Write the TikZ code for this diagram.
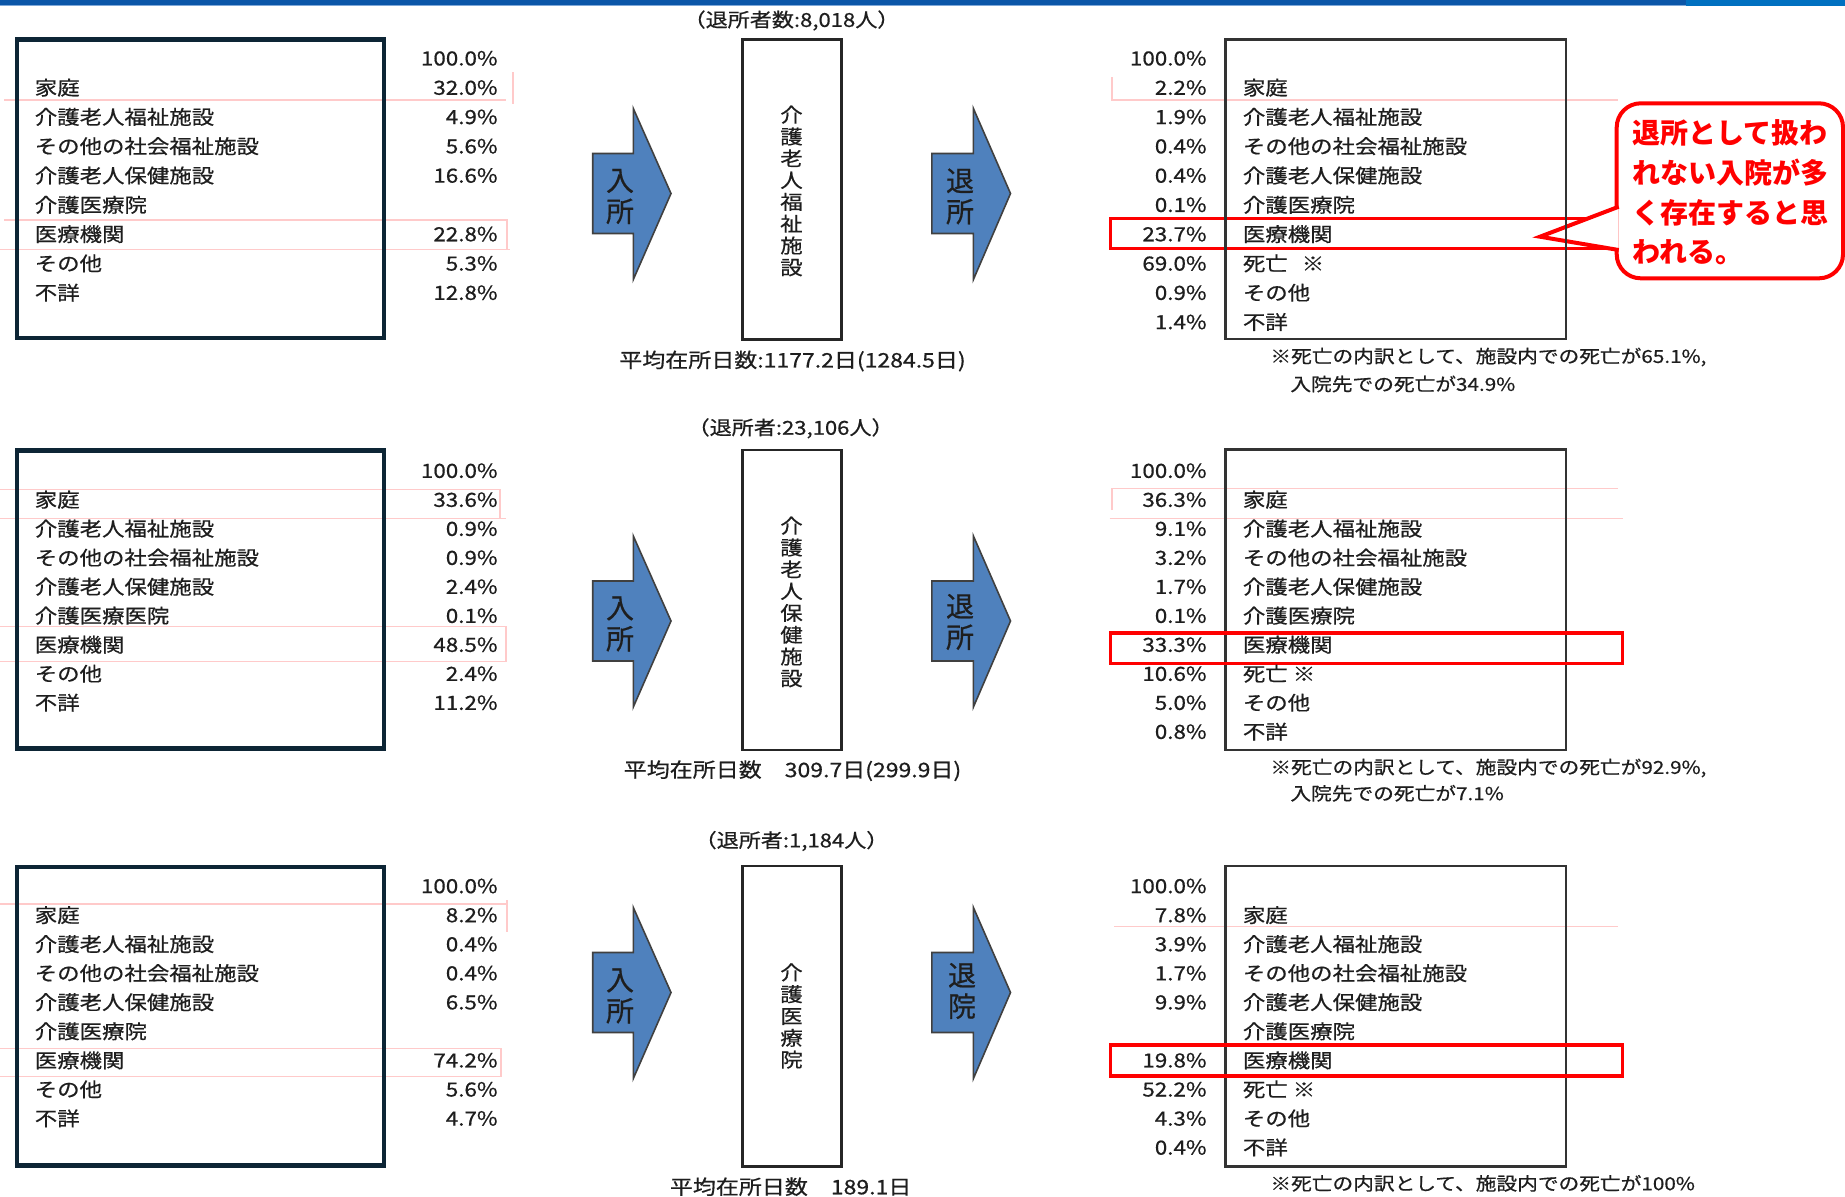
\documentclass[tikz,border=0pt]{standalone}
\usepackage{fontspec}
\setmainfont{Liberation Sans}
\newfontfamily\jpS[FakeStretch=1.15,FakeBold=0.6]{Noto Sans CJK JP}
\newfontfamily\jpN[FakeBold=0.6]{Noto Sans CJK JP}
\newfontfamily\jpB{Noto Sans CJK JP}
\newcommand\fTab{\jpS\fontsize{9.75}{11}\selectfont}
\newcommand\fVert{\jpS\fontsize{9.75}{10.9}\selectfont}
\newcommand\fNote{\jpS\fontsize{9}{11}\selectfont}
\newcommand\fHead{\jpS\fontsize{9.6}{11}\selectfont}
\newcommand\fFoot{\jpS\fontsize{10}{12}\selectfont}
\newcommand\fArr{\jpN\fontsize{14}{15.5}\selectfont}
\newcommand\fCall{\jpB\bfseries\fontsize{14}{19.8}\selectfont}
\definecolor{navyc}{HTML}{0D2535}
\definecolor{boxgray}{HTML}{333333}
\definecolor{txtc}{HTML}{1E1E1E}
\definecolor{arrowblue}{HTML}{4F81BD}
\definecolor{pinkc}{HTML}{FFCACA}
\definecolor{barblue}{HTML}{0B56A8}
\definecolor{barblue2}{HTML}{0070C0}
\definecolor{barlight}{HTML}{7FA8D8}
\definecolor{hired}{HTML}{FF0000}
\begin{document}
\begin{tikzpicture}[x=0.5pt,y=-0.5pt,
  tabtext/.style={inner sep=0pt, font=\fTab, text=txtc},
  lbl/.style={tabtext, anchor=west},
  pct/.style={tabtext, anchor=east},
  leftbox/.style={draw=navyc, line width=2.3pt},
  rightbox/.style={draw=boxgray, line width=1.2pt},
  tallbox/.style={draw=black!85, line width=1.2pt},
  blockarrow/.style={fill=arrowblue, draw=black!75, line width=0.8pt, line join=miter},
  arrtext/.style={font=\fArr, align=center, inner sep=0pt, text=txtc},
  vtext/.style={font=\fVert, align=center, inner sep=0pt, text=txtc},
  hilite/.style={draw=hired, line width=1.8pt},
  pinkln/.style={draw=pinkc, line width=0.6pt},
  callbox/.style={draw=hired, line width=2pt, fill=white, rounded corners=12pt},
  callptr/.style={draw=hired, line width=2pt, fill=white, line join=miter},
  calltext/.style={text=hired, font=\fCall, align=left, inner sep=0pt},
  note/.style={font=\fNote, inner sep=0pt, anchor=west, text=txtc},
  head/.style={font=\fHead, inner sep=0pt, text=txtc},
  foot/.style={font=\fFoot, inner sep=0pt, text=txtc}
]
\useasboundingbox (0,0) rectangle (1845,1196);
\fill[white] (0,0) rectangle (1845,1196);

% top bar
\fill[barlight] (0,3.5) rectangle (1722,6);
\fill[barblue] (0,0) rectangle (1686,4.5);
\fill[barblue2] (1686,0) rectangle (1845,5.5);

% faint pink guide lines
\draw[pinkln] (4,100) -- (506,100);
\draw[pinkln] (513,72) -- (513,104);
\draw[pinkln] (4,220) -- (507,220) -- (507,249.3);
\draw[pinkln] (0,249.3) -- (510,249.3);
\draw[pinkln] (1112,77) -- (1112,100) -- (1618,100);
\draw[pinkln] (0,489.3) -- (500,489.3) -- (500,518.3);
\draw[pinkln] (0,518.3) -- (506,518.3);
\draw[pinkln] (0,626.7) -- (506,626.7) -- (506,661.7) -- (0,661.7);
\draw[pinkln] (1112,510) -- (1112,488.3) -- (1618,488.3);
\draw[pinkln] (1109.5,518.3) -- (1622.6,518.3);
\draw[pinkln] (0,904) -- (507,904);
\draw[pinkln] (507,900) -- (507,932);
\draw[pinkln] (0,1048.3) -- (501,1048.3) -- (501,1076.7) -- (0,1076.7);
\draw[pinkln] (1114,926.7) -- (1618,926.7);

% ================= Section 1 =================
\draw[leftbox] (17,39.3) rectangle (384,338);
\foreach \i/\t in {1/家庭,2/介護老人福祉施設,3/その他の社会福祉施設,4/介護老人保健施設,5/介護医療院,6/医療機関,7/その他,8/不詳}
  \node[lbl] (aL\i) at (34.4,{58.3+29.3*\i}) {\t};
\foreach \i/\p in {0/100.0,1/32.0,2/4.9,3/5.6,4/16.6,6/22.8,7/5.3,8/12.8}
  \node[pct] (aP\i) at (498,{58.3+29.3*\i}) {\p\%};

\node[head] (aHead) at (791.5,20.5) {（退所者数:8,018人）};
\draw[tallbox] (742.5,39.5) rectangle (841.5,339.5);
\node[vtext] (aFac) at (791.5,191) {介\\護\\老\\人\\福\\祉\\施\\設};
\node[foot] (aStay) at (792.5,361) {平均在所日数:1177.2日(1284.5日)};

\draw[blockarrow] (592.7,153.5) -- (633.3,153.5) -- (633.3,108.5) -- (671,193.5) -- (633.3,279.5) -- (633.3,233.5) -- (592.7,233.5) -- cycle;
\node[arrtext] (aIn) at (620,196.5) {入\\所};
\draw[blockarrow] (931.9,153.5) -- (973.4,153.5) -- (973.4,108.5) -- (1010.5,193.5) -- (973.4,279.5) -- (973.4,233.5) -- (931.9,233.5) -- cycle;
\node[arrtext] (aOut) at (960,196.5) {退\\所};

\draw[hilite] (1110.5,218.3) rectangle (1622.6,248.3);
\draw[callbox] (1616.7,103.3) rectangle (1843,278.3);
\draw[callptr] (1618.7,206.7) -- (1540,236.7) -- (1618.7,250);
\node[calltext, anchor=west] (aCall) at (1632,192.5) {退所として扱わ\\れない入院が多\\く存在すると思\\われる。};

\draw[rightbox] (1225.5,39.5) rectangle (1566,339);
\foreach \i/\t in {1/家庭,2/介護老人福祉施設,3/その他の社会福祉施設,4/介護老人保健施設,5/介護医療院,6/医療機関,7/死亡\hspace{7pt}※,8/その他,9/不詳}
  \node[lbl] (aR\i) at (1242.5,{58.3+29.3*\i}) {\t};
\foreach \i/\p in {0/100.0,1/2.2,2/1.9,3/0.4,4/0.4,5/0.1,6/23.7,7/69.0,8/0.9,9/1.4}
  \node[pct] (aQ\i) at (1207,{58.3+29.3*\i}) {\p\%};
\node[note] (aN1) at (1270,357) {※死亡の内訳として、施設内での死亡が65.1\%,};
\node[note] (aN2) at (1290,384) {入院先での死亡が34.9\%};

% ================= Section 2 =================
\draw[leftbox] (17,450.3) rectangle (384,748.5);
\foreach \i/\t in {1/家庭,2/介護老人福祉施設,3/その他の社会福祉施設,4/介護老人保健施設,5/介護医療医院,6/医療機関,7/その他,8/不詳}
  \node[lbl] (bL\i) at (34.4,{470.7+29.0*\i}) {\t};
\foreach \i/\p in {0/100.0,1/33.6,2/0.9,3/0.9,4/2.4,5/0.1,6/48.5,7/2.4,8/11.2}
  \node[pct] (bP\i) at (498,{470.7+29.0*\i}) {\p\%};

\node[head] (bHead) at (790.6,428.3) {（退所者:23,106人）};
\draw[tallbox] (742.5,450) rectangle (841.5,750);
\node[vtext] (bFac) at (791.5,602) {介\\護\\老\\人\\保\\健\\施\\設};
\node[foot] (bStay) at (792.5,770.7) {平均在所日数　309.7日(299.9日)};

\draw[blockarrow] (592.7,581) -- (633.3,581) -- (633.3,536) -- (671,621) -- (633.3,707) -- (633.3,661) -- (592.7,661) -- cycle;
\node[arrtext] (bIn) at (620,624) {入\\所};
\draw[blockarrow] (931.9,581) -- (973.4,581) -- (973.4,536) -- (1010.5,621) -- (973.4,707) -- (973.4,661) -- (931.9,661) -- cycle;
\node[arrtext] (bOut) at (960,622) {退\\所};

\draw[rightbox] (1225.5,449.5) rectangle (1566,750);
\draw[hilite] (1110.5,632.7) rectangle (1622.6,663.3);
\foreach \i/\t in {1/家庭,2/介護老人福祉施設,3/その他の社会福祉施設,4/介護老人保健施設,5/介護医療院,6/医療機関,7/死亡 ※,8/その他,9/不詳}
  \node[lbl] (bR\i) at (1242.5,{470.7+29.0*\i}) {\t};
\foreach \i/\p in {0/100.0,1/36.3,2/9.1,3/3.2,4/1.7,5/0.1,6/33.3,7/10.6,8/5.0,9/0.8}
  \node[pct] (bQ\i) at (1207,{470.7+29.0*\i}) {\p\%};
\node[note] (bN1) at (1270,768) {※死亡の内訳として、施設内での死亡が92.9\%,};
\node[note] (bN2) at (1290,793.3) {入院先での死亡が7.1\%};

% ================= Section 3 =================
\draw[leftbox] (17,867) rectangle (384,1165.3);
\foreach \i/\t in {1/家庭,2/介護老人福祉施設,3/その他の社会福祉施設,4/介護老人保健施設,5/介護医療院,6/医療機関,7/その他,8/不詳}
  \node[lbl] (cL\i) at (34.4,{886+29.05*\i}) {\t};
\foreach \i/\p in {0/100.0,1/8.2,2/0.4,3/0.4,4/6.5,6/74.2,7/5.6,8/4.7}
  \node[pct] (cP\i) at (498,{886+29.05*\i}) {\p\%};

\node[head] (cHead) at (791.5,841) {（退所者:1,184人）};
\draw[tallbox] (742.5,866) rectangle (841.5,1166.5);
\node[vtext] (cFac) at (791.5,1016) {介\\護\\医\\療\\院};
\node[foot] (cStay) at (790.6,1186.7) {平均在所日数　189.1日};

\draw[blockarrow] (592.7,952.5) -- (633.3,952.5) -- (633.3,907.5) -- (671,992.5) -- (633.3,1078.5) -- (633.3,1032.5) -- (592.7,1032.5) -- cycle;
\node[arrtext] (cIn) at (620,996) {入\\所};
\draw[blockarrow] (931.9,952.5) -- (973.4,952.5) -- (973.4,907.5) -- (1010.5,992.5) -- (973.4,1078.5) -- (973.4,1032.5) -- (931.9,1032.5) -- cycle;
\node[arrtext] (cOut) at (962,991) {退\\院};

\draw[rightbox] (1225.5,866) rectangle (1566,1166.5);
\draw[hilite] (1110.5,1045) rectangle (1622.6,1076);
\foreach \i/\t in {1/家庭,2/介護老人福祉施設,3/その他の社会福祉施設,4/介護老人保健施設,5/介護医療院,6/医療機関,7/死亡 ※,8/その他,9/不詳}
  \node[lbl] (cR\i) at (1242.5,{886+29.05*\i}) {\t};
\foreach \i/\p in {0/100.0,1/7.8,2/3.9,3/1.7,4/9.9,6/19.8,7/52.2,8/4.3,9/0.4}
  \node[pct] (cQ\i) at (1207,{886+29.05*\i}) {\p\%};
\node[note] (cN1) at (1270,1183.3) {※死亡の内訳として、施設内での死亡が100\%};
\end{tikzpicture}
\end{document}
